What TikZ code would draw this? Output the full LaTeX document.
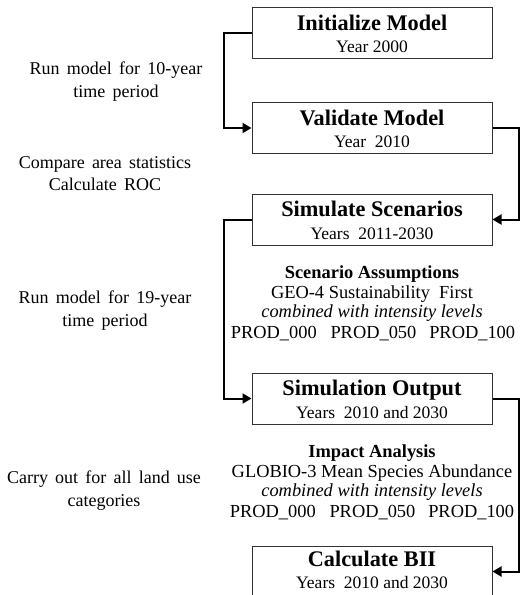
\documentclass[tikz,border=0pt]{standalone}
\usepackage{fontspec}
\setmainfont{Liberation Serif}
\usetikzlibrary{arrows.meta}
\newcommand\widesp{\spaceskip=0.4em\relax}
\begin{document}
\begin{tikzpicture}[x=1pt,y=-1pt,
 box/.style={draw=black!80, line width=1pt, minimum width=240pt, minimum height=51pt, inner sep=0pt},
 ttl/.style={anchor=base, inner sep=0pt, font=\fontsize{22.3}{26}\selectfont\bfseries},
 sub/.style={anchor=base, inner sep=0pt, font=\fontsize{17.5}{21}\selectfont},
 side/.style={anchor=base, inner sep=0pt, font=\fontsize{18}{22}\selectfont},
 body/.style={anchor=base, inner sep=0pt, font=\fontsize{18.4}{22}\selectfont},
 bodyb/.style={body, font=\fontsize{18.4}{22}\selectfont\bfseries},
 bodyi/.style={body, font=\fontsize{18.4}{22}\selectfont\itshape},
 conn/.style={line width=2pt, -{Triangle[length=9pt,width=10pt]}},
]
\clip (0,0) rectangle (520,595);
\fill[white] (0,0) rectangle (520,595);

% boxes
\node[box] (init) at (372,33) {};
\node[box] (val)  at (372,128) {};
\node[box] (sim)  at (372,219.5) {};
\node[box] (out)  at (372,398.5) {};
\node[box] (calc) at (372,571.5) {};

% box texts
\node[ttl] (initT) at ([yshift=-23pt]init.north) {Initialize Model};
\node[sub] (initS) at ([yshift=-45.5pt]init.north) {Year 2000};
\node[ttl] (valT) at ([yshift=-23pt]val.north) {Validate Model};
\node[sub] (valS) at ([yshift=-45.5pt]val.north) {Year\ \ 2010};
\node[ttl] (simT) at ([yshift=-23pt]sim.north) {Simulate Scenarios};
\node[sub] (simS) at ([yshift=-45.5pt]sim.north) {Years\ \ 2011-2030};
\node[ttl] (outT) at ([yshift=-23pt]out.north) {Simulation Output};
\node[sub] (outS) at ([yshift=-45.5pt]out.north) {Years\ \ 2010 and 2030};
\node[ttl] (calcT) at ([yshift=-21pt]calc.north) {Calculate BII};
\node[sub] (calcS) at ([yshift=-43pt]calc.north) {Years\ \ 2010 and 2030};

% scenario assumptions
\node[bodyb] (sa1) at (372,278) {Scenario Assumptions};
\node[body] (sa2) at (372,298) {GEO-4 Sustainability\ \ First};
\node[bodyi] (sa3) at (372,317.5) {combined with intensity levels};
\node[body] (sa4) at (373,338) {PROD\_000\hspace{0.75em}PROD\_050\hspace{0.7em}PROD\_100};

% impact analysis
\node[bodyb] (ia1) at (372,457) {Impact Analysis};
\node[body] (ia2) at (372,477) {GLOBIO-3 Mean Species Abundance};
\node[bodyi] (ia3) at (372,496.5) {combined with intensity levels};
\node[body] (ia4) at (372,517) {PROD\_000\hspace{0.75em}PROD\_050\hspace{0.7em}PROD\_100};

% side notes
\node[side] (n1a) at (116,74.5) {\widesp Run model for 10-year};
\node[side] (n1b) at (116,97) {\widesp time period};
\node[side] (n2a) at (105,168) {\widesp Compare area statistics};
\node[side] (n2b) at (105,190.5) {\widesp Calculate ROC};
\node[side] (n3a) at (105,303.5) {\widesp Run model for 19-year};
\node[side] (n3b) at (105,326) {\widesp time period};
\node[side] (n4a) at (104,483.5) {\widesp Carry out for all land use};
\node[side] (n4b) at (104,506) {\widesp categories};

% connectors
\draw[conn] (init.west) -- ++(-28,0) |- (val.west);
\draw[conn] (val.east) -- ++(26,0) |- (sim.east);
\draw[conn] (sim.west) -- ++(-28,0) |- (out.west);
\draw[conn] (out.east) -- ++(26,0) |- (calc.east);
\end{tikzpicture}
\end{document}
